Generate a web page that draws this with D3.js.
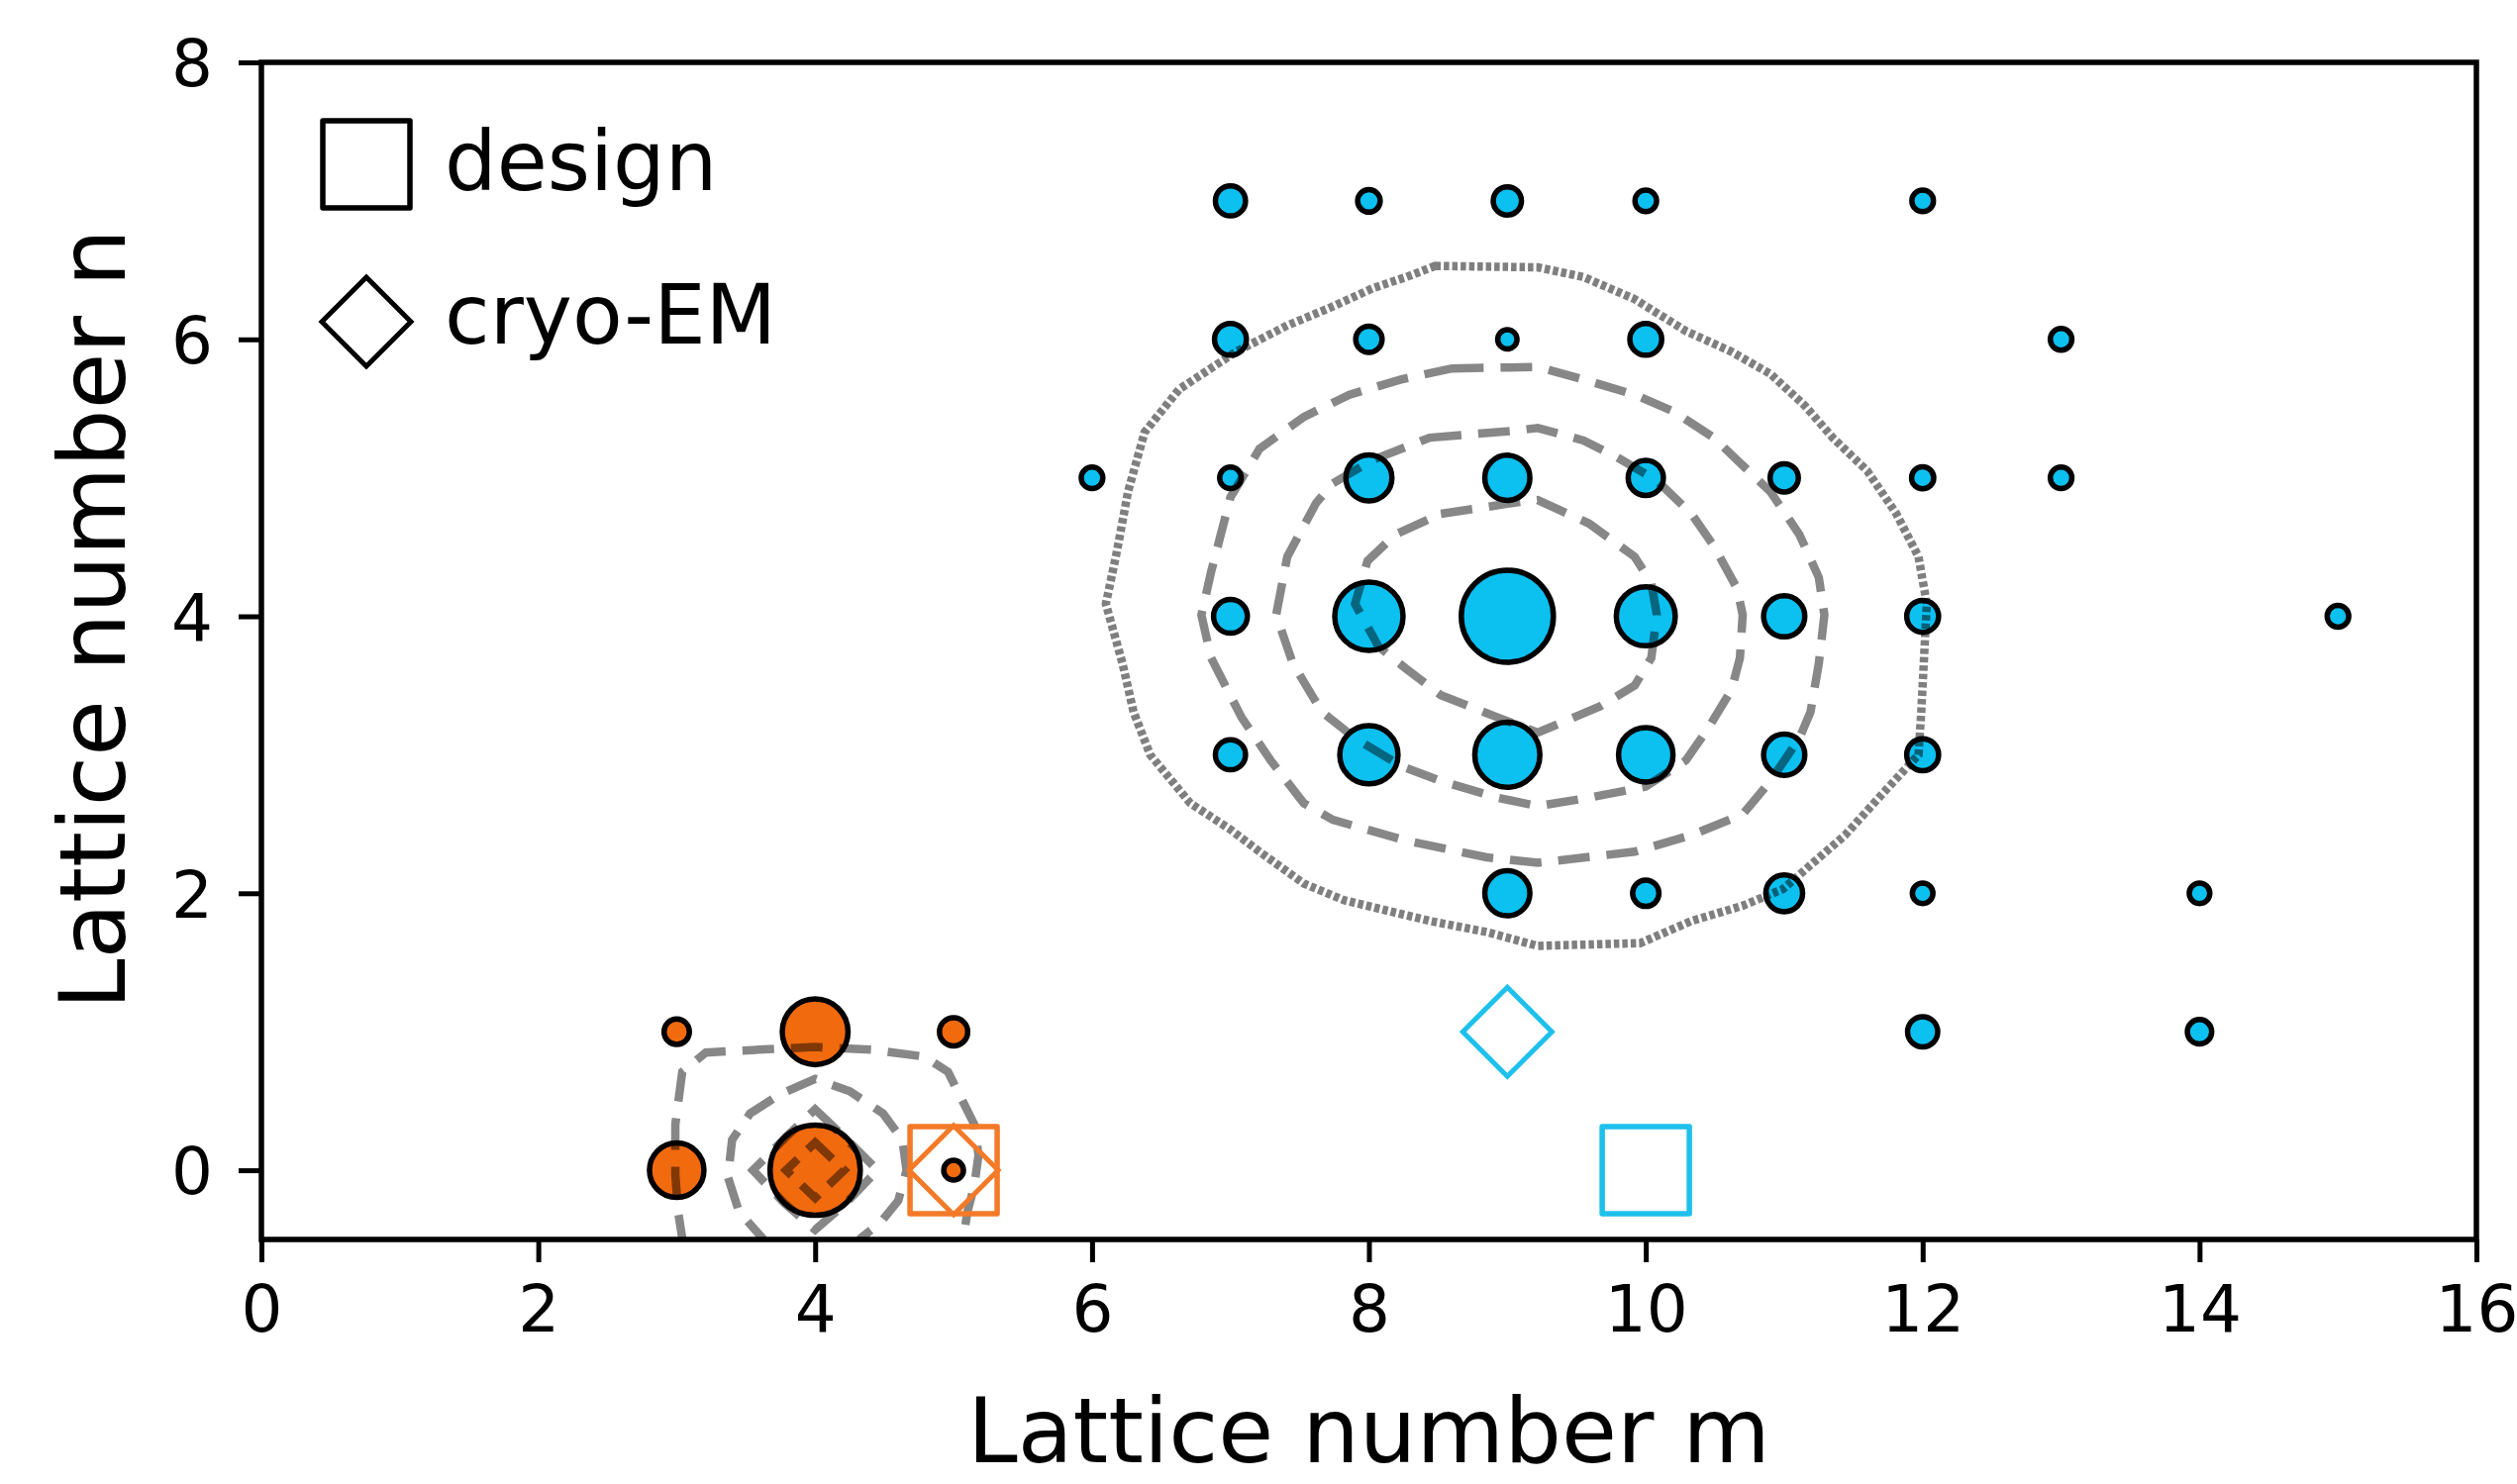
<!DOCTYPE html>
<html><head><meta charset="utf-8">
<script src="https://cdn.jsdelivr.net/npm/d3@7"></script>
<style>body{margin:0;background:#fff}svg{display:block}</style>
</head><body>
<svg id="chart" width="2542" height="1499"></svg>
<script>
// ---------- data ----------
const xTicks = [0, 2, 4, 6, 8, 10, 12, 14, 16];
const yTicks = [0, 2, 4, 6, 8];
const xLabel = "Lattice number m";
const yLabel = "Lattice number n";
const legendLabels = ["design", "cryo-EM"];

// blue cluster: lattice numbers (m, n) and relative weight
const blueM = [7, 8, 9, 10, 12,   7, 8, 9, 10, 13,   6, 7, 8, 9, 10, 11, 12, 13,   7, 8, 9, 10, 11, 12, 15,   7, 8, 9, 10, 11, 12,   9, 10, 11, 12, 14,   12, 14];
const blueN = [7, 7, 7, 7, 7,     6, 6, 6, 6, 6,     5, 5, 5, 5, 5, 5, 5, 5,      4, 4, 4, 4, 4, 4, 4,      3, 3, 3, 3, 3, 3,      2, 2, 2, 2, 2,       1, 1];
const blueW = [10.7, 6, 9.4, 5.5, 5.5,  12, 8.2, 4.4, 12, 5.5,  5.5, 5.5, 25, 24, 14.6, 9.4, 5.8, 5.5,  13.5, 55, 100, 41, 20, 12, 5.5,  10.7, 40, 50, 35, 20, 12,  24, 8.2, 16, 5, 5,  10.7, 7];

// orange cluster
const orangeM = [3, 4, 5, 3, 4, 5];
const orangeN = [1, 1, 1, 0, 0, 0];
const orangeW = [7.6, 51, 9.4, 35, 96, 4.6];

// design (square) and cryo-EM (diamond) positions
const designBlue = [10, 0];
const cryoBlue = [9, 1];
const designOrange = [5, 0];
const cryoOrange = [5, 0];

// density contours (m, n)
const blueDotted = [[8.48,6.53],[9.22,6.52],[9.55,6.45],[9.92,6.29],[10.29,6.06],[10.62,5.91],[10.90,5.75],[11.15,5.52],[11.35,5.29],[11.60,5.05],[11.81,4.74],[11.97,4.43],[12.03,4.09],[12.01,3.70],[11.99,3.31],[11.97,3.00],[11.72,2.73],[11.44,2.42],[10.99,2.03],[10.70,1.91],[10.33,1.80],[9.96,1.64],[9.22,1.62],[8.85,1.72],[8.44,1.80],[7.82,1.95],[7.53,2.07],[7.21,2.30],[7.00,2.46],[6.71,2.65],[6.42,3.00],[6.30,3.31],[6.22,3.66],[6.10,4.09],[6.18,4.47],[6.26,4.90],[6.38,5.33],[6.63,5.64],[7.04,5.91],[7.41,6.10],[7.70,6.22],[8.03,6.37],[8.27,6.45]];
const blueDash1 = [[8.60,5.79],[9.22,5.80],[9.55,5.71],[9.92,5.60],[10.20,5.48],[10.49,5.29],[10.70,5.09],[10.90,4.90],[11.11,4.59],[11.25,4.28],[11.29,4.01],[11.25,3.66],[11.19,3.31],[11.11,3.12],[10.90,2.81],[10.70,2.57],[10.33,2.42],[9.92,2.30],[9.22,2.22],[8.85,2.26],[8.27,2.38],[7.74,2.53],[7.53,2.65],[7.29,2.96],[7.08,3.27],[6.86,3.70],[6.79,4.01],[6.86,4.32],[7.00,4.86],[7.21,5.21],[7.53,5.44],[7.86,5.60],[8.23,5.71]];
const blueDash2 = [[8.44,5.29],[9.05,5.34],[9.22,5.36],[9.55,5.27],[9.79,5.15],[10.08,4.98],[10.33,4.74],[10.49,4.51],[10.66,4.20],[10.70,4.01],[10.68,3.70],[10.62,3.47],[10.45,3.19],[10.29,2.96],[10.00,2.77],[9.59,2.69],[9.22,2.63],[8.93,2.69],[8.52,2.81],[8.23,2.92],[7.90,3.12],[7.66,3.31],[7.45,3.66],[7.33,4.01],[7.41,4.43],[7.62,4.82],[7.74,4.96],[8.03,5.13]];
const blueDash3 = [[8.52,4.74],[9.05,4.82],[9.22,4.84],[9.59,4.67],[9.92,4.43],[10.04,4.24],[10.08,4.01],[10.04,3.70],[9.92,3.50],[9.67,3.35],[9.22,3.16],[8.93,3.27],[8.52,3.43],[8.27,3.62],[8.07,3.78],[7.90,4.09],[7.99,4.40],[8.19,4.59]];
const orangeDash1 = [[3.05,-0.90],[3.04,-0.49],[3.01,-0.30],[2.99,-0.03],[2.99,0.33],[3.04,0.71],[3.21,0.85],[3.59,0.87],[4.00,0.89],[4.41,0.87],[4.79,0.82],[4.96,0.71],[5.07,0.49],[5.15,0.33],[5.18,0.11],[5.15,-0.11],[5.10,-0.30],[5.07,-0.49],[5.05,-0.90]];
const orangeDash2 = [[3.70,-0.90],[3.62,-0.49],[3.45,-0.30],[3.37,-0.05],[3.40,0.22],[3.53,0.41],[3.75,0.55],[4.00,0.66],[4.25,0.57],[4.49,0.41],[4.63,0.22],[4.66,0.00],[4.60,-0.22],[4.47,-0.38],[4.33,-0.49],[4.25,-0.90]];
const orangeDash3 = [[4.00,0.44],[4.20,0.25],[4.45,0.00],[4.22,-0.24],[4.00,-0.43],[3.78,-0.24],[3.55,0.00],[3.80,0.25]];
const orangeDash4 = [[4.00,0.20],[4.21,0.00],[4.00,-0.20],[3.79,0.00]];

// ---------- drawing ----------
const svg = d3.select("#chart");
const W = 2542, H = 1499;
svg.append("rect").attr("width", W).attr("height", H).attr("fill", "#fff");

const pLeft = 264, pRight = 2501, pTop = 63, pBottom = 1252;
const x = d3.scaleLinear().domain([0, 16]).range([pLeft, pRight]);
const y = d3.scaleLinear().domain([-0.5, 8]).range([pBottom, pTop]);
const r = d3.scaleSqrt().domain([0, 100]).range([0, 46.5]);

const BLUE = "#0cc0f0", BLUE_LINE = "#1ec0ec";
const ORANGE = "#f26a0e", ORANGE_LINE = "#f47a28";
const FONT = "DejaVu Sans, Verdana, sans-serif";

svg.append("defs").append("clipPath").attr("id", "plotclip")
  .append("rect").attr("x", pLeft).attr("y", pTop).attr("width", pRight - pLeft).attr("height", pBottom - pTop);

const plot = svg.append("g").attr("clip-path", "url(#plotclip)");

// circles
const blue = blueM.map((m, i) => ({m, n: blueN[i], w: blueW[i]}));
const orange = orangeM.map((m, i) => ({m, n: orangeN[i], w: orangeW[i]}));
plot.selectAll("circle.blue").data(blue).join("circle").attr("class", "blue")
  .attr("cx", d => x(d.m)).attr("cy", d => y(d.n)).attr("r", d => r(d.w))
  .attr("fill", BLUE).attr("stroke", "#000").attr("stroke-width", 5.5);
plot.selectAll("circle.orange").data(orange).join("circle").attr("class", "orange")
  .attr("cx", d => x(d.m)).attr("cy", d => y(d.n)).attr("r", d => r(d.w))
  .attr("fill", ORANGE).attr("stroke", "#000").attr("stroke-width", 5.5);

// contours
const line = d3.line().x(d => x(d[0])).y(d => y(d[1])).curve(d3.curveLinearClosed);
const contours = [
  {pts: blueDotted, dash: "5.5 3", w: 8.5, o: 0.5},
  {pts: blueDash1, dash: "32 17", w: 8.5, o: 0.47},
  {pts: blueDash2, dash: "32 17", w: 8.5, o: 0.47},
  {pts: blueDash3, dash: "32 17", w: 8.5, o: 0.47},
  {pts: orangeDash1, dash: "32 17", w: 8.5, o: 0.47},
  {pts: orangeDash2, dash: "32 17", w: 8.5, o: 0.47},
  {pts: orangeDash3, dash: "32 17", w: 8.5, o: 0.47},
  {pts: orangeDash4, dash: "24 14", w: 8.5, o: 0.47}
];
plot.selectAll("path.contour").data(contours).join("path")
  .attr("class", "contour")
  .attr("d", d => line(d.pts))
  .attr("fill", "none").attr("stroke", "#000").attr("stroke-opacity", d => d.o)
  .attr("stroke-width", d => d.w).attr("stroke-dasharray", d => d.dash);

// markers
const sq = 88, dm = 45;
function square(g, cx, cy, color) {
  g.append("rect").attr("x", cx - sq / 2).attr("y", cy - sq / 2).attr("width", sq).attr("height", sq)
    .attr("fill", "none").attr("stroke", color).attr("stroke-width", 5.5).attr("stroke-linejoin", "round");
}
function diamond(g, cx, cy, color) {
  g.append("path").attr("d", `M${cx},${cy - dm}L${cx + dm},${cy}L${cx},${cy + dm}L${cx - dm},${cy}Z`)
    .attr("fill", "none").attr("stroke", color).attr("stroke-width", 5).attr("stroke-linejoin", "miter");
}
square(plot, x(designBlue[0]), y(designBlue[1]), BLUE_LINE);
diamond(plot, x(cryoBlue[0]), y(cryoBlue[1]), BLUE_LINE);
square(plot, x(designOrange[0]), y(designOrange[1]), ORANGE_LINE);
diamond(plot, x(cryoOrange[0]), y(cryoOrange[1]), ORANGE_LINE);

// legend
const lg = svg.append("g");
square(lg, 370, 166, "#000");
diamond(lg, 370, 325, "#000");
lg.selectAll("text").data(legendLabels).join("text")
  .attr("x", 449).attr("y", (d, i) => i === 0 ? 192 : 347)
  .attr("font-family", FONT).attr("font-size", 83).attr("fill", "#000")
  .text(d => d);

// axes
const xAxis = d3.axisBottom(x).tickValues(xTicks).tickSize(23).tickSizeOuter(0).tickPadding(22).tickFormat(d3.format("d"));
const yAxis = d3.axisLeft(y).tickValues(yTicks).tickSize(23).tickSizeOuter(0).tickPadding(26).tickFormat(d3.format("d"));
const gx = svg.append("g").attr("transform", `translate(0,${pBottom})`).call(xAxis);
const gy = svg.append("g").attr("transform", `translate(${pLeft},0)`).call(yAxis);
[gx, gy].forEach(g => {
  g.select(".domain").remove();
  g.selectAll(".tick line").attr("stroke", "#000").attr("stroke-width", 5);
  g.selectAll(".tick text").attr("font-family", FONT).attr("font-size", 66).attr("fill", "#000");
});
gx.selectAll(".tick text").attr("dy", "0.72em");
gy.selectAll(".tick text").attr("dy", "0.36em");

// frame
svg.append("rect").attr("x", pLeft).attr("y", pTop).attr("width", pRight - pLeft).attr("height", pBottom - pTop)
  .attr("fill", "none").attr("stroke", "#000").attr("stroke-width", 5.5);

// axis labels
svg.append("text").attr("x", (pLeft + pRight) / 2).attr("y", 1477).attr("text-anchor", "middle")
  .attr("font-family", FONT).attr("font-size", 91).attr("fill", "#000").text(xLabel);
svg.append("text").attr("transform", `translate(126,${(pTop + pBottom) / 2 - 32}) rotate(-90)`).attr("text-anchor", "middle")
  .attr("font-family", FONT).attr("font-size", 92).attr("fill", "#000").text(yLabel);
</script>
</body></html>
